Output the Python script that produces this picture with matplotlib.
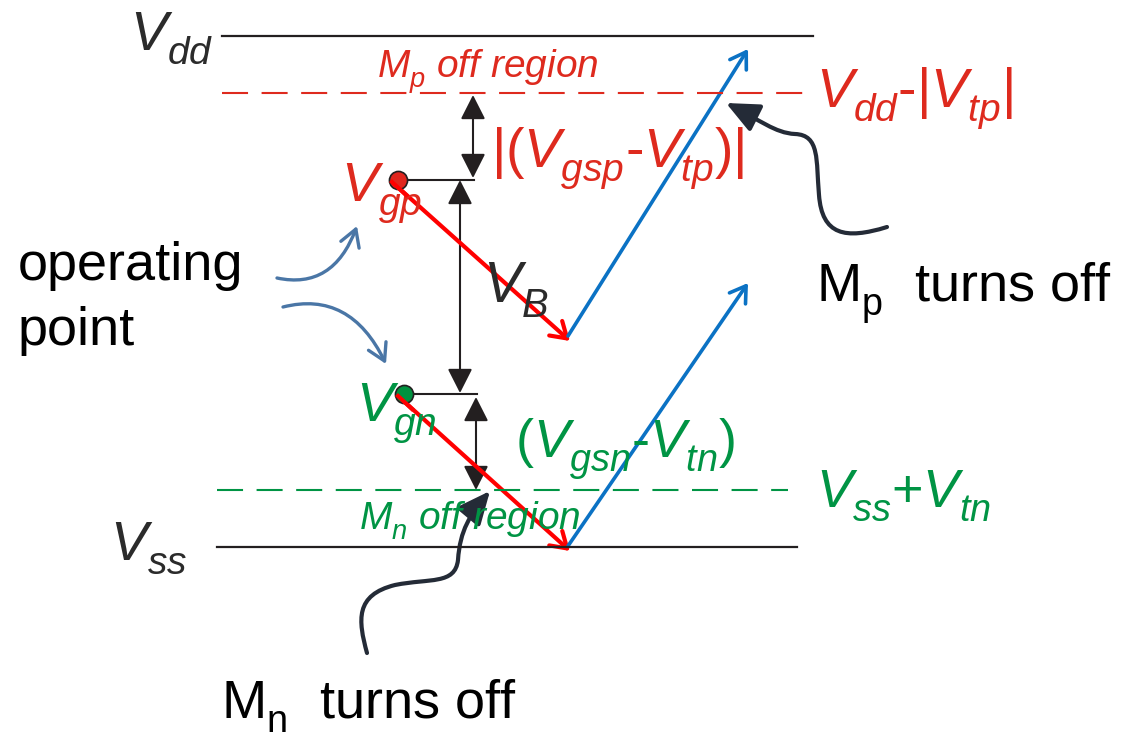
import matplotlib
matplotlib.use('Agg')
import matplotlib.pyplot as plt
from matplotlib.patches import FancyArrowPatch
from matplotlib.path import Path

plt.rcParams['font.family'] = ['Liberation Sans', 'DejaVu Sans']
plt.rcParams['mathtext.fontset'] = 'custom'
plt.rcParams['mathtext.rm'] = 'Liberation Sans'
plt.rcParams['mathtext.it'] = 'Liberation Sans:italic'
plt.rcParams['mathtext.bf'] = 'Liberation Sans:bold'
# subscripts in the original sit lower than mathtext's default
try:
    import matplotlib._mathtext as _mt
    _mt.FontConstantsBase.sub1 = 0.5
except Exception:
    pass

# levels of the diagram (pixel rows, top = 0)
rail_y = [36, 547]            # Vdd, Vss
rail_x0 = [222, 217]
rail_x1 = [813, 797]
thresh_y = [93, 490]          # Vdd-|Vtp|, Vss+Vtn
thresh_x1 = [803, 788]
gate_x = [398, 404]           # Vgp, Vgn operating points
gate_y = [180, 394]
swing_x = [570, 570]          # bottom of the red swings
swing_y = [341, 551]
peak_x = [748, 748]           # top of the blue swings
peak_y = [49, 283]

red_txt = '#de2a1e'
green_txt = '#009444'
red_arr = '#ff0000'
blue_arr = '#0b72c4'
line_col = '#231f20'
steel = '#4a76a6'
dark = '#242b37'

fig = plt.figure(figsize=(11.4, 7.34), dpi=100)
ax = fig.add_axes([0, 0, 1, 1])
ax.set_xlim(0, 1140)
ax.set_ylim(734, 0)
ax.axis('off')

# rails
for y, x0, x1 in zip(rail_y, rail_x0, rail_x1):
    ax.plot([x0, x1], [y, y], color=line_col, lw=1.6)
# threshold dashed lines
ax.plot([222, thresh_x1[0]], [thresh_y[0]] * 2, color=red_txt, lw=1.5, ls=(0, (12.5, 6.5)))
ax.plot([217, thresh_x1[1]], [thresh_y[1]] * 2, color=green_txt, lw=1.5, ls=(0, (12.5, 6.5)))

# ticks from operating points
ax.plot([gate_x[0], 474], [gate_y[0]] * 2, color=line_col, lw=1.5)
ax.plot([gate_x[1], 477], [gate_y[1]] * 2, color=line_col, lw=1.5)


def arrow(p0, p1, style, color, lw, ms=20, **kw):
    a = FancyArrowPatch(p0, p1, arrowstyle=style, color=color, lw=lw,
                        mutation_scale=ms, shrinkA=0, shrinkB=0, **kw)
    ax.add_patch(a)


dbl = '<|-|>,head_length=0.75,head_width=0.38'
arrow((473, thresh_y[0] + 2), (473, gate_y[0] - 2), dbl, line_col, 1.5)
arrow((460, gate_y[0]), (460, gate_y[1] - 1), dbl, line_col, 1.5)
arrow((476, gate_y[1] + 3), (476, thresh_y[1]), dbl, line_col, 1.5)

# swings
for i in range(2):
    arrow((gate_x[i] - 6, gate_y[i] + 2), (swing_x[i], swing_y[i]),
          '->,head_length=0.55,head_width=0.35', red_arr, 3.0)
    arrow((swing_x[i] - 2, swing_y[i] - 5), (peak_x[i], peak_y[i]),
          '->,head_length=0.55,head_width=0.35', blue_arr, 2.6)

# operating point dots
ax.scatter([gate_x[0]], [gate_y[0]], s=170, color='#e0261e', edgecolor=line_col, lw=1.2, zorder=5)
ax.scatter([gate_x[1]], [gate_y[1]], s=170, color='#00923f', edgecolor=line_col, lw=1.2, zorder=5)
# red swing starts run over the dots
for i in range(2):
    ax.plot([gate_x[i] - 6, gate_x[i] + 8], [gate_y[i] + 2, gate_y[i] + 15], color=red_arr, lw=3.0, zorder=6)

# curved pointers to the operating points
c1 = FancyArrowPatch(path=Path([(277, 278), (333, 290), (357, 226)],
                               [Path.MOVETO, Path.CURVE3, Path.CURVE3]),
                     arrowstyle='->,head_length=0.6,head_width=0.35', color=steel, lw=2.4, mutation_scale=20)
ax.add_patch(c1)
c2 = FancyArrowPatch(path=Path([(283, 307), (350, 290), (386, 364)],
                               [Path.MOVETO, Path.CURVE3, Path.CURVE3]),
                     arrowstyle='->,head_length=0.6,head_width=0.35', color=steel, lw=2.4, mutation_scale=20)
ax.add_patch(c2)

# curly pointers
C4 = Path.CURVE4
mp_path = Path([(887, 227), (845, 240), (822, 235), (819, 195),
                (816, 160), (820, 135), (795, 134),
                (775, 133), (760, 120), (726, 103)],
               [Path.MOVETO, C4, C4, C4, C4, C4, C4, C4, C4, C4])
ax.add_patch(FancyArrowPatch(path=mp_path, arrowstyle='-|>,head_length=1.0,head_width=0.45',
                             color=dark, lw=3.0, mutation_scale=20))
mn_path = Path([(367, 653), (358, 620), (355, 595), (395, 585),
                (430, 578), (455, 585), (458, 560),
                (460, 530), (470, 515), (490, 491)],
               [Path.MOVETO, C4, C4, C4, C4, C4, C4, C4, C4, C4])
ax.add_patch(FancyArrowPatch(path=mn_path, arrowstyle='-|>,head_length=1.0,head_width=0.45',
                             color=dark, lw=3.0, mutation_scale=20))

# labels
big = 39
ax.text(130, 50, r'$V_{dd}$', fontsize=40, color='#2b2b2b', va='baseline')
ax.text(110, 560, r'$V_{ss}$', fontsize=40, color='#2b2b2b', va='baseline')
ax.text(377, 77, r'$M_p$ off region', fontsize=28, color=red_txt, style='italic', va='baseline')
ax.text(359, 530, r'$M_n$ off region', fontsize=28, color=green_txt, style='italic', va='baseline')
ax.text(816, 108, r'$V_{dd}$-$|V_{tp}|$', fontsize=40, color=red_txt, va='baseline')
ax.text(491, 167, r'$|(V_{gsp}$-$V_{tp})|$', fontsize=40, color=red_txt, va='baseline')
ax.text(341, 202, r'$V_{gp}$', fontsize=40, color=red_txt, va='baseline')
ax.text(356, 422, r'$V_{gn}$', fontsize=40, color=green_txt, va='baseline')
ax.text(515, 458, r'$(V_{gsn}$-$V_{tn})$', fontsize=39, color=green_txt, va='baseline')
ax.text(816, 507, r'$V_{ss}$+$V_{tn}$', fontsize=39, color=green_txt, va='baseline')
ax.text(483, 302, r'$V_B$', fontsize=41, color='#2b2b2b', va='baseline')
ax.text(18, 280, 'operating', fontsize=big, color='black', va='baseline')
ax.text(18, 345, 'point', fontsize=big, color='black', va='baseline')
ax.text(816, 302, r'$\mathrm{M}_\mathrm{p}$  turns off', fontsize=big, color='black', va='baseline')
ax.text(221, 718, r'$\mathrm{M}_\mathrm{n}$  turns off', fontsize=big, color='black', va='baseline')

fig.savefig('out.png', dpi=100)
